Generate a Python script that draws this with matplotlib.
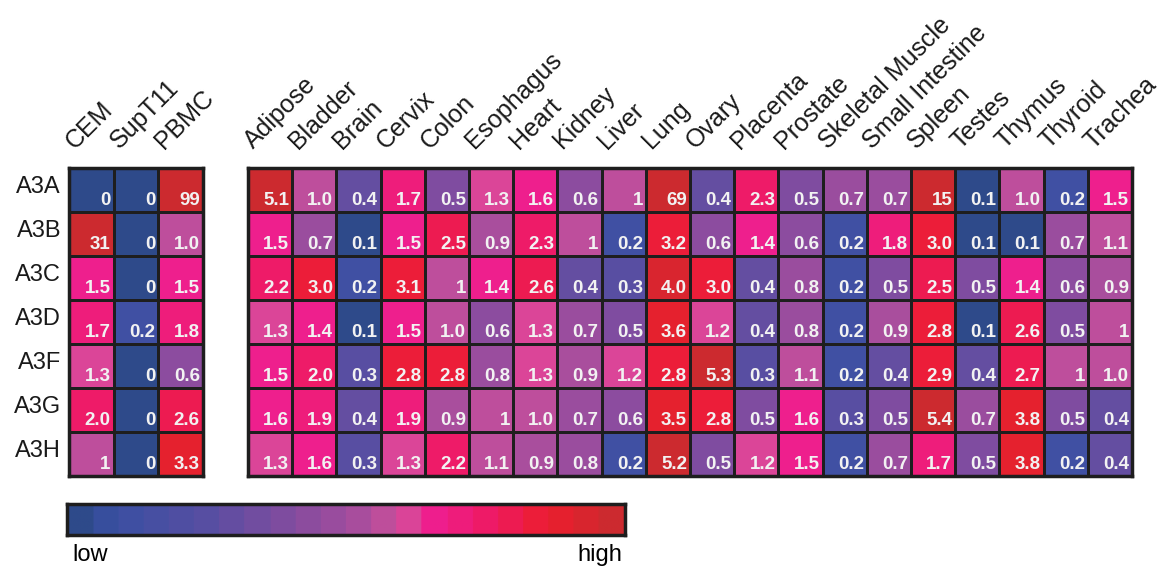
import numpy as np
import matplotlib
matplotlib.use("Agg")
from matplotlib import pyplot as plt
from matplotlib.colors import LinearSegmentedColormap, ListedColormap, LogNorm

plt.rcParams['font.family'] = ['Liberation Sans', 'DejaVu Sans']

genes = ['A3A', 'A3B', 'A3C', 'A3D', 'A3F', 'A3G', 'A3H']
cell_lines = ['CEM', 'SupT11', 'PBMC']
tissues = ['Adipose', 'Bladder', 'Brain', 'Cervix', 'Colon', 'Esophagus', 'Heart',
           'Kidney', 'Liver', 'Lung', 'Ovary', 'Placenta', 'Prostate',
           'Skeletal Muscle', 'Small Intestine', 'Spleen', 'Testes', 'Thymus',
           'Thyroid', 'Trachea']

# values as printed in each cell (rows = genes)
cell_line_labels = [
    ['0', '0', '99'],
    ['31', '0', '1.0'],
    ['1.5', '0', '1.5'],
    ['1.7', '0.2', '1.8'],
    ['1.3', '0', '0.6'],
    ['2.0', '0', '2.6'],
    ['1', '0', '3.3'],
]
tissue_labels = [
    '5.1 1.0 0.4 1.7 0.5 1.3 1.6 0.6 1 69 0.4 2.3 0.5 0.7 0.7 15 0.1 1.0 0.2 1.5'.split(),
    '1.5 0.7 0.1 1.5 2.5 0.9 2.3 1 0.2 3.2 0.6 1.4 0.6 0.2 1.8 3.0 0.1 0.1 0.7 1.1'.split(),
    '2.2 3.0 0.2 3.1 1 1.4 2.6 0.4 0.3 4.0 3.0 0.4 0.8 0.2 0.5 2.5 0.5 1.4 0.6 0.9'.split(),
    '1.3 1.4 0.1 1.5 1.0 0.6 1.3 0.7 0.5 3.6 1.2 0.4 0.8 0.2 0.9 2.8 0.1 2.6 0.5 1'.split(),
    '1.5 2.0 0.3 2.8 2.8 0.8 1.3 0.9 1.2 2.8 5.3 0.3 1.1 0.2 0.4 2.9 0.4 2.7 1 1.0'.split(),
    '1.6 1.9 0.4 1.9 0.9 1 1.0 0.7 0.6 3.5 2.8 0.5 1.6 0.3 0.5 5.4 0.7 3.8 0.5 0.4'.split(),
    '1.3 1.6 0.3 1.3 2.2 1.1 0.9 0.8 0.2 5.2 0.5 1.2 1.5 0.2 0.7 1.7 0.5 3.8 0.2 0.4'.split(),
]

# blue -> purple -> pink -> red, in steps like the original legend
anchors = [(0.00, '#2e4a8a'), (0.06, '#3a50a3'), (0.25, '#5a4ea2'), (0.42, '#8a4c9f'),
           (0.55, '#b04e9d'), (0.61, '#d64e9a'), (0.66, '#ee1f90'), (0.78, '#ee1a62'),
           (0.88, '#ec1e2e'), (1.00, '#cc2a2f')]
base = LinearSegmentedColormap.from_list('bpr', anchors)
cmap = ListedColormap(base(np.linspace(0, 1, 22)))
norm = LogNorm(vmin=0.12, vmax=5.5, clip=True)

fig = plt.figure(figsize=(11.7, 5.69), dpi=100)
ax1 = fig.add_axes([0.059, 0.1634, 0.1145, 0.5413])
ax2 = fig.add_axes([0.212, 0.1634, 0.7556, 0.5413])


def draw_heat(ax, labels, cols, row_labels=False):
    vals = np.array([[float(v) for v in row] for row in labels])
    ax.pcolormesh(np.clip(vals, 0.05, None), cmap=cmap, norm=norm,
                  edgecolors='#1e1e1e', linewidth=2)
    ax.set_xlim(0, len(cols))
    ax.set_ylim(len(genes), 0)
    ax.set_xticks([])
    ax.set_yticks([])
    for s in ax.spines.values():
        s.set_linewidth(2.5)
        s.set_color('#1e1e1e')
    for i in range(len(genes)):
        for j in range(len(cols)):
            ax.text(j + 0.93, i + 0.84, labels[i][j], ha='right', va='baseline',
                    color='#f2f2f2', fontsize=13.5, fontweight='bold')
    for j, c in enumerate(cols):
        ax.text(j + 0.12, -0.42, c, rotation=45, rotation_mode='anchor',
                ha='left', va='baseline', fontsize=18, color='#1a1a1a', clip_on=False)
    if row_labels:
        for i, g in enumerate(genes):
            ax.text(-0.18, i + 0.42, g, ha='right', va='center', fontsize=17,
                    color='#1a1a1a', clip_on=False)


draw_heat(ax1, cell_line_labels, cell_lines, row_labels=True)
draw_heat(ax2, tissue_labels, tissues)

# low/high legend bar
cax = fig.add_axes([0.0573, 0.0598, 0.4769, 0.0545])
cax.imshow(np.linspace(0, 1, 400)[None, :], aspect='auto', cmap=cmap)
cax.set_xticks([])
cax.set_yticks([])
for s in cax.spines.values():
    s.set_linewidth(2.5)
    s.set_color('#1e1e1e')
cax.text(0.01, -0.3, 'low', transform=cax.transAxes, ha='left', va='top', fontsize=17)
cax.text(0.995, -0.3, 'high', transform=cax.transAxes, ha='right', va='top', fontsize=17)

fig.savefig('out.png', dpi=100)
